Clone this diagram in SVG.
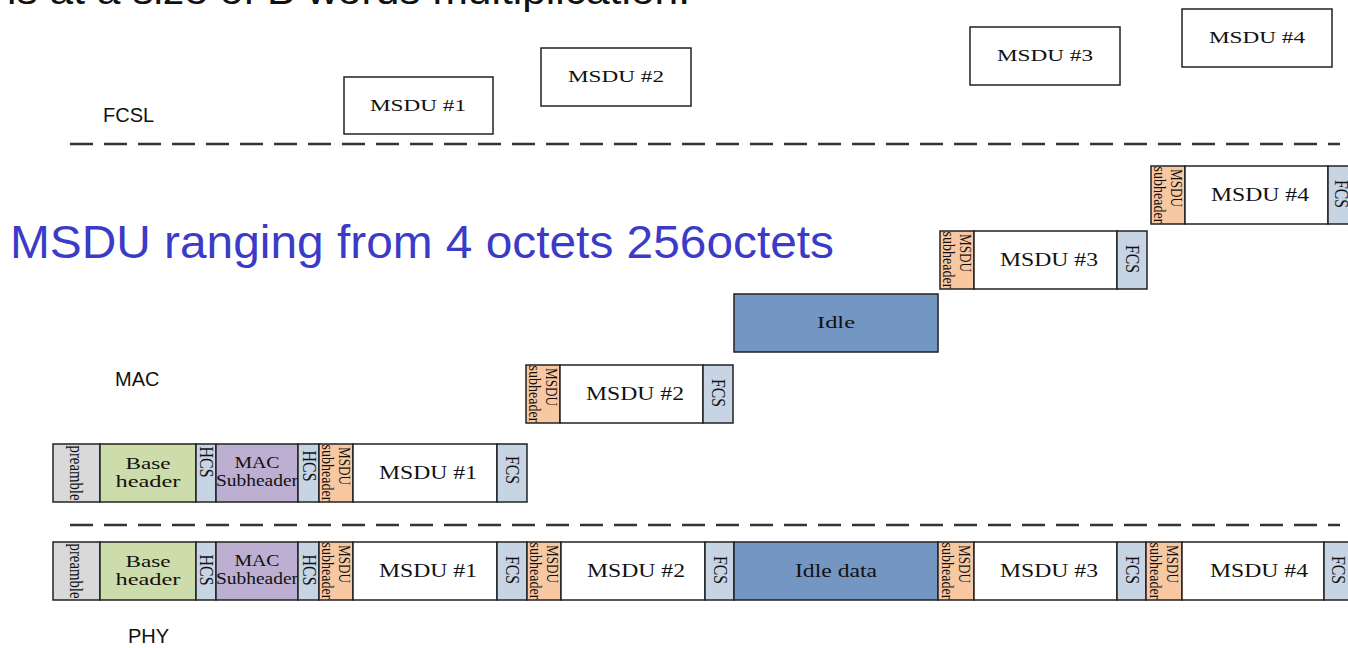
<svg xmlns="http://www.w3.org/2000/svg" width="1348" height="648" viewBox="0 0 1348 648">
<style>
.c{stroke:#222;stroke-width:1.5}
.w{fill:#fff}.g{fill:#d9d9d9}.gr{fill:#cddcab}.b{fill:#c6d4e4}.p{fill:#bdafd2}.o{fill:#f8c8a2}.i{fill:#7396c3}
.t{font-family:"Liberation Serif",serif;fill:#111;text-anchor:middle}
.m{font-size:19px}
.s{font-size:16.5px}
.h{font-size:16px}
.r{font-size:18px;dominant-baseline:central}
.q{font-size:16px;dominant-baseline:central}
.lab{font-family:"Liberation Sans",Arial,sans-serif;font-size:20px;fill:#111}
.sep{stroke:#333;stroke-width:2.5;stroke-dasharray:23 11;fill:none}
</style>
<text x="7" y="4" font-family="Liberation Sans, Arial, sans-serif" font-size="38" fill="#111" textLength="683" lengthAdjust="spacingAndGlyphs">is at a size of B words multiplication.</text>
<text x="10" y="258" font-family="Liberation Sans, Arial, sans-serif" font-size="46" fill="#3b3bc8" textLength="824" lengthAdjust="spacingAndGlyphs">MSDU ranging from 4 octets 256octets</text>
<text class="lab" x="103" y="122">FCSL</text>
<text class="lab" x="115" y="386">MAC</text>
<text class="lab" x="128" y="643">PHY</text>
<g id="separators">
<line class="sep" x1="70" y1="144" x2="1340" y2="144"/>
<line class="sep" x1="70" y1="525" x2="1340" y2="525"/>
</g>
<g id="fcsl-msdu1"><rect class="c w" x="344" y="77" width="149" height="57"/><text class="t s" x="418" y="111" textLength="96" lengthAdjust="spacingAndGlyphs">MSDU #1</text></g>
<g id="fcsl-msdu2"><rect class="c w" x="541" y="48" width="150" height="58"/><text class="t s" x="616" y="82" textLength="96" lengthAdjust="spacingAndGlyphs">MSDU #2</text></g>
<g id="fcsl-msdu3"><rect class="c w" x="970" y="27" width="150" height="58"/><text class="t s" x="1045" y="61" textLength="96" lengthAdjust="spacingAndGlyphs">MSDU #3</text></g>
<g id="fcsl-msdu4"><rect class="c w" x="1182" y="9" width="150" height="58"/><text class="t s" x="1257" y="43" textLength="96" lengthAdjust="spacingAndGlyphs">MSDU #4</text></g>
<g id="mac-pdu1">
<rect class="c g" x="53" y="444" width="47" height="58"/><text class="t r" transform="translate(76,473) rotate(90)" textLength="55" lengthAdjust="spacingAndGlyphs">preamble</text>
<rect class="c gr" x="100" y="444" width="96" height="58"/><text class="t s" x="148" y="469" textLength="45" lengthAdjust="spacingAndGlyphs">Base</text><text class="t s" x="148" y="487" textLength="65" lengthAdjust="spacingAndGlyphs">header</text>
<rect class="c b" x="196" y="444" width="20" height="58"/><text class="t r" transform="translate(206,462) rotate(90)" textLength="31" lengthAdjust="spacingAndGlyphs">HCS</text>
<rect class="c p" x="216" y="444" width="82" height="58"/><text class="t h" x="257" y="468" textLength="45" lengthAdjust="spacingAndGlyphs">MAC</text><text class="t h" x="257" y="486" textLength="82" lengthAdjust="spacingAndGlyphs">Subheader</text>
<rect class="c b" x="298" y="444" width="21" height="58"/><text class="t r" transform="translate(308.5,466) rotate(90)" textLength="31" lengthAdjust="spacingAndGlyphs">HCS</text>
<rect class="c o" x="319" y="444" width="34" height="58"/><text class="t q" transform="translate(344,466) rotate(90)" textLength="38" lengthAdjust="spacingAndGlyphs">MSDU</text><text class="t q" transform="translate(327,473) rotate(90)" textLength="57" lengthAdjust="spacingAndGlyphs">subheader</text>
<rect class="c w" x="353" y="444" width="144" height="58"/><text class="t m" x="428" y="479" textLength="98" lengthAdjust="spacingAndGlyphs">MSDU #1</text>
<rect class="c b" x="497" y="444" width="30" height="58"/><text class="t r" transform="translate(512,470) rotate(90)" textLength="28" lengthAdjust="spacingAndGlyphs">FCS</text>
</g>
<g id="mac-pdu2">
<rect class="c o" x="526" y="365" width="34" height="58"/><text class="t q" transform="translate(551,387) rotate(90)" textLength="38" lengthAdjust="spacingAndGlyphs">MSDU</text><text class="t q" transform="translate(534,394) rotate(90)" textLength="57" lengthAdjust="spacingAndGlyphs">subheader</text>
<rect class="c w" x="560" y="365" width="143" height="58"/><text class="t m" x="635" y="400" textLength="98" lengthAdjust="spacingAndGlyphs">MSDU #2</text>
<rect class="c b" x="703" y="365" width="30" height="58"/><text class="t r" transform="translate(718,393) rotate(90)" textLength="28" lengthAdjust="spacingAndGlyphs">FCS</text>
</g>
<g id="mac-idle"><rect class="c i" x="734" y="294" width="204" height="58"/><text class="t s" x="836" y="328" textLength="38" lengthAdjust="spacingAndGlyphs">Idle</text></g>
<g id="mac-pdu3">
<rect class="c o" x="940" y="231" width="34" height="58"/><text class="t q" transform="translate(965,253) rotate(90)" textLength="38" lengthAdjust="spacingAndGlyphs">MSDU</text><text class="t q" transform="translate(948,260) rotate(90)" textLength="57" lengthAdjust="spacingAndGlyphs">subheader</text>
<rect class="c w" x="974" y="231" width="143" height="58"/><text class="t m" x="1049" y="266" textLength="98" lengthAdjust="spacingAndGlyphs">MSDU #3</text>
<rect class="c b" x="1117" y="231" width="30" height="58"/><text class="t r" transform="translate(1132,259) rotate(90)" textLength="28" lengthAdjust="spacingAndGlyphs">FCS</text>
</g>
<g id="mac-pdu4">
<rect class="c o" x="1151" y="166" width="34" height="58"/><text class="t q" transform="translate(1176,188) rotate(90)" textLength="38" lengthAdjust="spacingAndGlyphs">MSDU</text><text class="t q" transform="translate(1159,195) rotate(90)" textLength="57" lengthAdjust="spacingAndGlyphs">subheader</text>
<rect class="c w" x="1185" y="166" width="143" height="58"/><text class="t m" x="1260" y="201" textLength="98" lengthAdjust="spacingAndGlyphs">MSDU #4</text>
<rect class="c b" x="1328" y="166" width="30" height="58"/><text class="t r" transform="translate(1341,194) rotate(90)" textLength="28" lengthAdjust="spacingAndGlyphs">FCS</text>
</g>
<g id="phy-burst">
<rect class="c g" x="53" y="542" width="47" height="58"/><text class="t r" transform="translate(76,571) rotate(90)" textLength="55" lengthAdjust="spacingAndGlyphs">preamble</text>
<rect class="c gr" x="100" y="542" width="96" height="58"/><text class="t s" x="148" y="567" textLength="45" lengthAdjust="spacingAndGlyphs">Base</text><text class="t s" x="148" y="585" textLength="65" lengthAdjust="spacingAndGlyphs">header</text>
<rect class="c b" x="196" y="542" width="20" height="58"/><text class="t r" transform="translate(206,570) rotate(90)" textLength="31" lengthAdjust="spacingAndGlyphs">HCS</text>
<rect class="c p" x="216" y="542" width="82" height="58"/><text class="t h" x="257" y="566" textLength="45" lengthAdjust="spacingAndGlyphs">MAC</text><text class="t h" x="257" y="584" textLength="82" lengthAdjust="spacingAndGlyphs">Subheader</text>
<rect class="c b" x="298" y="542" width="21" height="58"/><text class="t r" transform="translate(308.5,570) rotate(90)" textLength="31" lengthAdjust="spacingAndGlyphs">HCS</text>
<rect class="c o" x="319" y="542" width="34" height="58"/><text class="t q" transform="translate(344,564) rotate(90)" textLength="38" lengthAdjust="spacingAndGlyphs">MSDU</text><text class="t q" transform="translate(327,571) rotate(90)" textLength="57" lengthAdjust="spacingAndGlyphs">subheader</text>
<rect class="c w" x="353" y="542" width="144" height="58"/><text class="t m" x="428" y="577" textLength="98" lengthAdjust="spacingAndGlyphs">MSDU #1</text>
<rect class="c b" x="497" y="542" width="30" height="58"/><text class="t r" transform="translate(512,570) rotate(90)" textLength="28" lengthAdjust="spacingAndGlyphs">FCS</text>
<rect class="c o" x="527" y="542" width="34" height="58"/><text class="t q" transform="translate(552,564) rotate(90)" textLength="38" lengthAdjust="spacingAndGlyphs">MSDU</text><text class="t q" transform="translate(535,571) rotate(90)" textLength="57" lengthAdjust="spacingAndGlyphs">subheader</text>
<rect class="c w" x="561" y="542" width="144" height="58"/><text class="t m" x="636" y="577" textLength="98" lengthAdjust="spacingAndGlyphs">MSDU #2</text>
<rect class="c b" x="705" y="542" width="29" height="58"/><text class="t r" transform="translate(719.5,570) rotate(90)" textLength="28" lengthAdjust="spacingAndGlyphs">FCS</text>
<rect class="c i" x="734" y="542" width="204" height="58"/><text class="t m" x="836" y="577" textLength="82" lengthAdjust="spacingAndGlyphs">Idle data</text>
<rect class="c o" x="938" y="542" width="36" height="58"/><text class="t q" transform="translate(964,564) rotate(90)" textLength="38" lengthAdjust="spacingAndGlyphs">MSDU</text><text class="t q" transform="translate(947,571) rotate(90)" textLength="57" lengthAdjust="spacingAndGlyphs">subheader</text>
<rect class="c w" x="974" y="542" width="143" height="58"/><text class="t m" x="1049" y="577" textLength="98" lengthAdjust="spacingAndGlyphs">MSDU #3</text>
<rect class="c b" x="1117" y="542" width="29" height="58"/><text class="t r" transform="translate(1131.5,570) rotate(90)" textLength="28" lengthAdjust="spacingAndGlyphs">FCS</text>
<rect class="c o" x="1146" y="542" width="36" height="58"/><text class="t q" transform="translate(1172,564) rotate(90)" textLength="38" lengthAdjust="spacingAndGlyphs">MSDU</text><text class="t q" transform="translate(1155,571) rotate(90)" textLength="57" lengthAdjust="spacingAndGlyphs">subheader</text>
<rect class="c w" x="1182" y="542" width="142" height="58"/><text class="t m" x="1259" y="577" textLength="98" lengthAdjust="spacingAndGlyphs">MSDU #4</text>
<rect class="c b" x="1324" y="542" width="30" height="58"/><text class="t r" transform="translate(1338,570) rotate(90)" textLength="28" lengthAdjust="spacingAndGlyphs">FCS</text>
</g>
</svg>
